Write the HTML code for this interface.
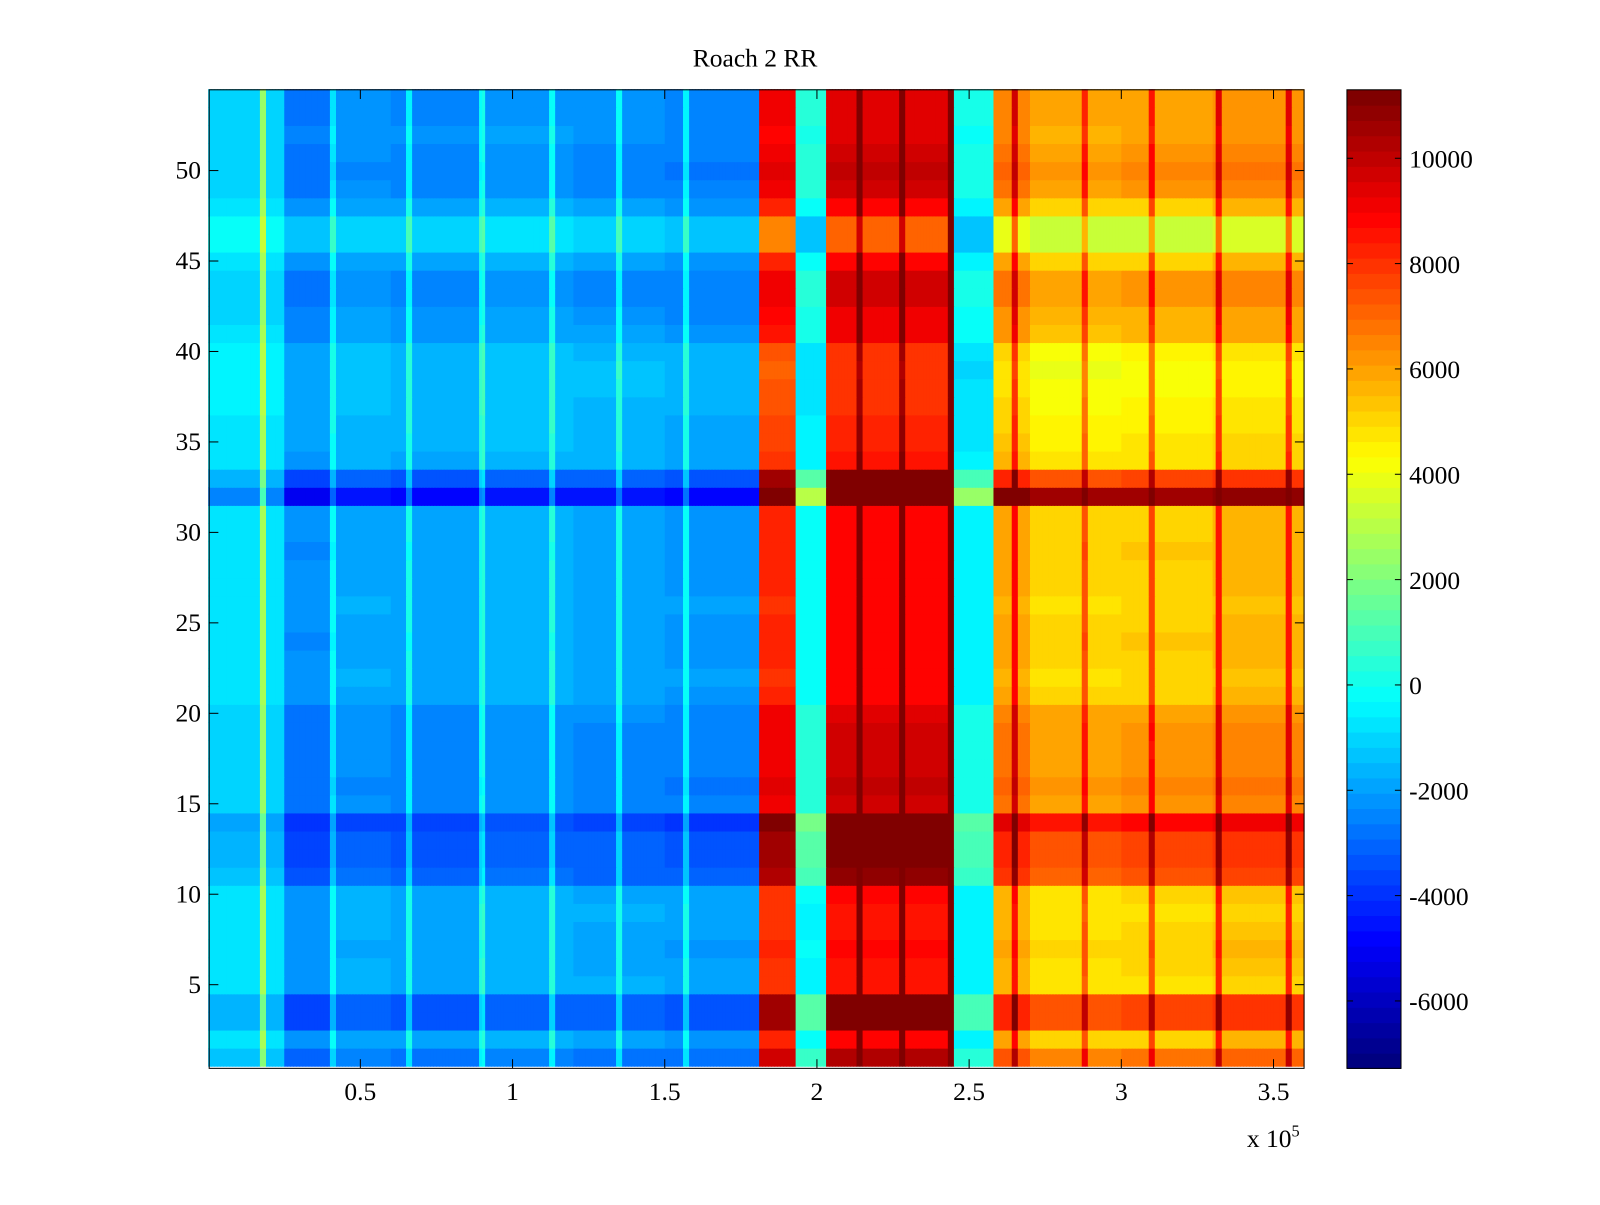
<!DOCTYPE html>
<html><head><meta charset="utf-8"><style>
body{margin:0;background:#fff}
svg text{font-family:"Liberation Serif",serif;font-size:25px;fill:#000}
</style></head><body>
<svg id="fig" width="1600" height="1200" xmlns="http://www.w3.org/2000/svg">
<rect width="1600" height="1200" fill="#fff"/>
<g transform="scale(1.0204)">
<text x="740" y="65" text-anchor="middle">Roach 2 RR</text>
<g id="heat"></g>
<g id="cbar"></g>
<g id="axes"></g>
</g>
</svg>
<script>
// ---- data ----
const rowOffsets = [1500,0,2500,2500,-300,-200,0,-200,-300,-100,2200,2500,2500,3500,1000,1200,1000,900,1000,800,0,-100,0,100,0,-100,0,0,100,0,0,5500,2500,-300,-500,-600,-800,-900,-1000,-800,300,500,1000,1000,0,-1800,-1800,0,1000,1200,1000,600,800,800];
const segStart = [0.00,0.25,0.42,0.60,0.90,1.20,1.50,1.81,1.93,2.03,2.45,2.47,2.58,2.70,3.00,3.30];
const segValue = [-800,-2300,-1800,-2000,-1700,-1900,-2100,8200,-200,8800,-400,-400,5800,5000,5200,5500];
const segGain  = [-0.3,-0.5,-0.5,-0.5,-0.5,-0.5,-0.5,1.0,0.6,0.9,0.5,0.5,1.0,1.0,1.0,1.0];
const lineX     = [0.18,0.41,0.66,0.90,1.13,1.35,1.57,2.14,2.28,2.44,2.65,2.88,3.10,3.32,3.55];
const lineDelta = [3500,2000,2000,2200,2000,2000,2000,2500,2500,11000,3000,2500,2500,3000,3000];
const yTicks = [5,10,15,20,25,30,35,40,45,50];
const xTicks = [0.5,1,1.5,2,2.5,3,3.5];
const cTicks = [-6000,-4000,-2000,0,2000,4000,6000,8000,10000];
const cMin = -7280, cMax = 11300, xMax = 3.6;
// ---- scales ----
const L=205,R=1278,T=88,B=1047;
const xPx = v => 204 + v*298.3;
const yPx = y => 965 - (y-5)*17.73;
const cPx = c => 1047 - (c-cMin)/(cMax-cMin)*959;
function jet(c){
  let t=(c-cMin)/(cMax-cMin); t=Math.max(0,Math.min(1,t));
  t=Math.min(63,Math.floor(t*64))/63;
  const cl=v=>Math.round(255*Math.max(0,Math.min(1,v)));
  return `rgb(${cl(1.5-Math.abs(4*t-3))},${cl(1.5-Math.abs(4*t-2))},${cl(1.5-Math.abs(4*t-1))})`;
}
const NS="http://www.w3.org/2000/svg";
function mk(tag,attrs,parent){const e=document.createElementNS(NS,tag);for(const k in attrs)e.setAttribute(k,attrs[k]);parent.appendChild(e);return e;}
const heat=document.getElementById('heat');
const step=0.01;
for(let r=0;r<rowOffsets.length;r++){
  const y0=yPx(r+1.5), y1=yPx(r+0.5);
  for(let i=0;i*step<xMax-1e-9;i++){
    const x=i*step+step/2;
    let s=0; for(let k=0;k<segStart.length;k++) if(x>=segStart[k]) s=k;
    let v=segValue[s]+rowOffsets[r]*segGain[s];
    for(let k=0;k<lineX.length;k++) if(Math.abs(x-lineX[k])<step*0.6) v+=lineDelta[k];
    const rc=mk('rect',{x:xPx(i*step).toFixed(2),y:y0.toFixed(2),width:(step*298.3+0.6).toFixed(2),height:(y1-y0+0.6).toFixed(2),fill:jet(v)},heat);
    
    
  }
}
const ax=document.getElementById('axes');
const box=mk('rect',{x:L,y:T,width:R-L,height:B-T,fill:'none',stroke:'#000','stroke-width':1},ax);


yTicks.forEach(t=>{
  const y=yPx(t);
  mk('line',{x1:L,x2:L+9,y1:y,y2:y,stroke:'#000'},ax);
  mk('line',{x1:R,x2:R-9,y1:y,y2:y,stroke:'#000'},ax);
  const tx=mk('text',{x:197,y:y+8,'text-anchor':'end'},ax);tx.textContent=t;
  
  
});
xTicks.forEach(t=>{
  const x=xPx(t);
  mk('line',{x1:x,x2:x,y1:B,y2:B-9,stroke:'#000'},ax);
  mk('line',{x1:x,x2:x,y1:T,y2:T+9,stroke:'#000'},ax);
  const tx=mk('text',{x:x,y:1078,'text-anchor':'middle'},ax);tx.textContent=t;
  
  
});
const ex=mk('text',{x:1222,y:1124},ax);ex.innerHTML='x 10<tspan dy="-10" font-size="16">5</tspan>';


// colorbar
const cb=document.getElementById('cbar');
for(let i=0;i<64;i++){
  const c0=cMin+(cMax-cMin)*i/64, c1=cMin+(cMax-cMin)*(i+1)/64;
  const rc=mk('rect',{x:1320,y:cPx(c1).toFixed(2),width:53,height:(cPx(c0)-cPx(c1)+0.6).toFixed(2),fill:jet((c0+c1)/2)},cb);
  
  
}
const cf=mk('rect',{x:1320,y:T,width:53,height:B-T,fill:'none',stroke:'#000'},cb);


cTicks.forEach(t=>{
  const y=cPx(t);
  mk('line',{x1:1320,x2:1326,y1:y,y2:y,stroke:'#000'},cb);
  mk('line',{x1:1373,x2:1367,y1:y,y2:y,stroke:'#000'},cb);
  const tx=mk('text',{x:1381,y:y+9},cb);tx.textContent=t;
  
  
});
</script>
</body></html>
